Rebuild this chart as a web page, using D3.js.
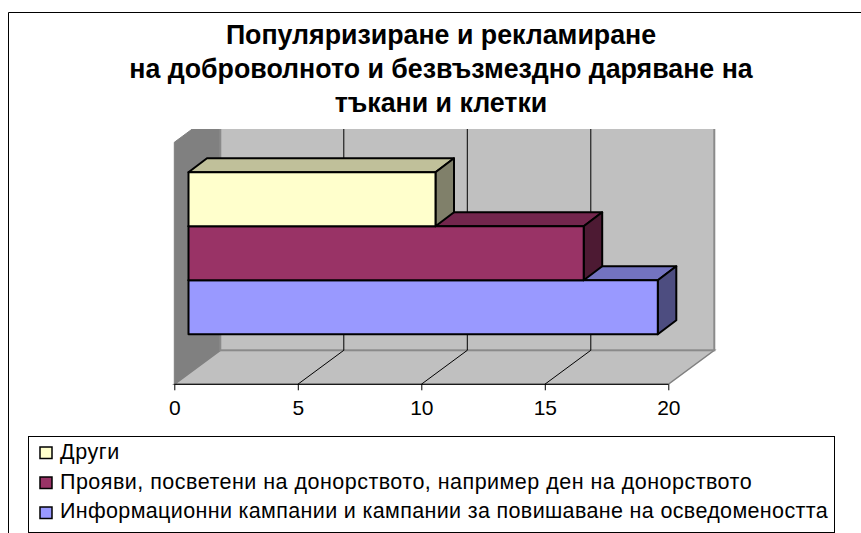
<!DOCTYPE html>
<html>
<head>
<meta charset="utf-8">
<script src="https://cdnjs.cloudflare.com/ajax/libs/d3/7.8.5/d3.min.js"></script>
<style>
html,body{margin:0;padding:0;background:#fff;overflow:hidden;}
svg{display:block;}
text{font-family:"Liberation Sans",Arial,sans-serif;fill:#000;}
</style>
</head>
<body>
<svg id="chart" width="861" height="533"></svg>
<script>
const titleLines = [
  "Популяризиране и рекламиране",
  "на доброволното и безвъзмездно даряване на",
  "тъкани и клетки"
];
const categories = [
  "Други",
  "Прояви, посветени на донорството, например ден на донорството",
  "Информационни кампании и кампании за повишаване на осведомеността"
];
const values = [10, 16, 19];
const fronts = ["#ffffcc", "#993366", "#9999ff"];
const tops = ["#c0c09a", "#73264d", "#7373c0"];
const sides = ["#80806a", "#4d1a33", "#4d4d80"];
const ticks = [0, 5, 10, 15, 20];
const legendTracking = [0.6, 0.48, 0.35];

const svg = d3.select("#chart");
const x = d3.scaleLinear().domain([0, 20]).range([174.3, 668.3]);
const y = d3.scaleBand().domain(categories).range([172.3, 334.3]);

// Oblique projection of the box depth
const depth = {dx: 46, dy: -34};
const barDepth = {dx: 18.5, dy: -14};
const barInset = 14.2;
const floorY = 384.3, wallTop = 142.3, visibleTop = 129;

const poly = pts => pts.map(p => p.join(",")).join(" ");

// Outer frame: only its left and top edges fall inside the window
svg.append("path").attr("d", "M8.5,533V12.5H861")
  .attr("fill", "none").attr("stroke", "#000").attr("stroke-width", 1);

svg.append("clipPath").attr("id", "plotClip").append("rect")
  .attr("x", 150).attr("y", visibleTop).attr("width", 600).attr("height", 280);
const plot = svg.append("g").attr("clip-path", "url(#plotClip)");

const x0 = x(0), x1 = x(20);
// Side wall, floor and back wall
plot.append("polygon")
  .attr("points", poly([[x0, wallTop], [x0 + depth.dx, wallTop + depth.dy], [x0 + depth.dx, floorY + depth.dy], [x0, floorY]]))
  .attr("fill", "#808080").attr("stroke", "#808080");
plot.append("polygon")
  .attr("points", poly([[x0, floorY], [x0 + depth.dx, floorY + depth.dy], [x1 + depth.dx, floorY + depth.dy], [x1, floorY]]))
  .attr("fill", "#c0c0c0").attr("stroke", "#808080").attr("stroke-width", 1.5);
plot.append("rect")
  .attr("x", x0 + depth.dx).attr("y", wallTop + depth.dy)
  .attr("width", x1 - x0).attr("height", floorY - wallTop)
  .attr("fill", "#c0c0c0").attr("stroke", "#8a8a8a").attr("stroke-width", 2);

// Gridlines run across the floor and up the back wall
ticks.slice(1, -1).forEach(t => {
  plot.append("path")
    .attr("d", d3.line()([[x(t), floorY], [x(t) + depth.dx, floorY + depth.dy], [x(t) + depth.dx, wallTop + depth.dy]]))
    .attr("fill", "none").attr("stroke", "#000").attr("stroke-width", 1);
});

// Bars: the lower rows go first so that each upper row sits on top of them
const bars = svg.append("g").attr("stroke", "#000").attr("stroke-width", 2).attr("stroke-linejoin", "round");
d3.range(categories.length - 1, -1, -1).forEach(i => {
  const c = categories[i];
  const left = x(0) + barInset, right = x(values[i]) + barInset;
  const t = y(c), b = t + y.bandwidth();
  bars.append("polygon")
    .attr("points", poly([[left, t], [left + barDepth.dx, t + barDepth.dy], [right + barDepth.dx, t + barDepth.dy], [right, t]]))
    .attr("fill", tops[i]);
  bars.append("polygon")
    .attr("points", poly([[right, t], [right + barDepth.dx, t + barDepth.dy], [right + barDepth.dx, b + barDepth.dy], [right, b]]))
    .attr("fill", sides[i]);
  bars.append("rect")
    .attr("x", left).attr("y", t).attr("width", right - left).attr("height", b - t)
    .attr("fill", fronts[i]);
});

// Value axis along the front edge of the floor
const axis = svg.append("g").attr("transform", `translate(0,${floorY})`)
  .call(d3.axisBottom(x).tickValues(ticks).tickSize(6).tickPadding(10).tickFormat(d3.format("d")));
axis.select(".domain").attr("stroke", "#000").attr("d", `M${x0},0H${x1}`);
axis.selectAll(".tick line").attr("stroke", "#000");
axis.selectAll("text").attr("font-size", 21).attr("font-family", null)
  .style("font-family", '"Liberation Sans",Arial,sans-serif');

// Title
svg.append("g").selectAll("text").data(titleLines).join("text")
  .attr("x", 441).attr("y", (d, i) => 43.5 + i * 34)
  .attr("text-anchor", "middle").attr("font-size", 26.75).attr("font-weight", "bold")
  .text(d => d);

// Legend: its lower edge sits on the bottom of the window
svg.append("rect").attr("x", 28.5).attr("y", 436.5).attr("width", 806).attr("height", 96)
  .attr("fill", "#fff").attr("stroke", "#000");
const legend = svg.append("g");
categories.forEach((c, i) => {
  const ly = 447 + i * 30;
  legend.append("rect").attr("x", 40).attr("y", ly).attr("width", 12).attr("height", 11.5)
    .attr("fill", fronts[i]).attr("stroke", "#000").attr("stroke-width", 1.5);
  legend.append("text").attr("x", 60).attr("y", 459.3 + i * 29.3)
    .attr("font-size", 21.5).attr("letter-spacing", legendTracking[i]).text(c);
});
</script>
</body>
</html>
